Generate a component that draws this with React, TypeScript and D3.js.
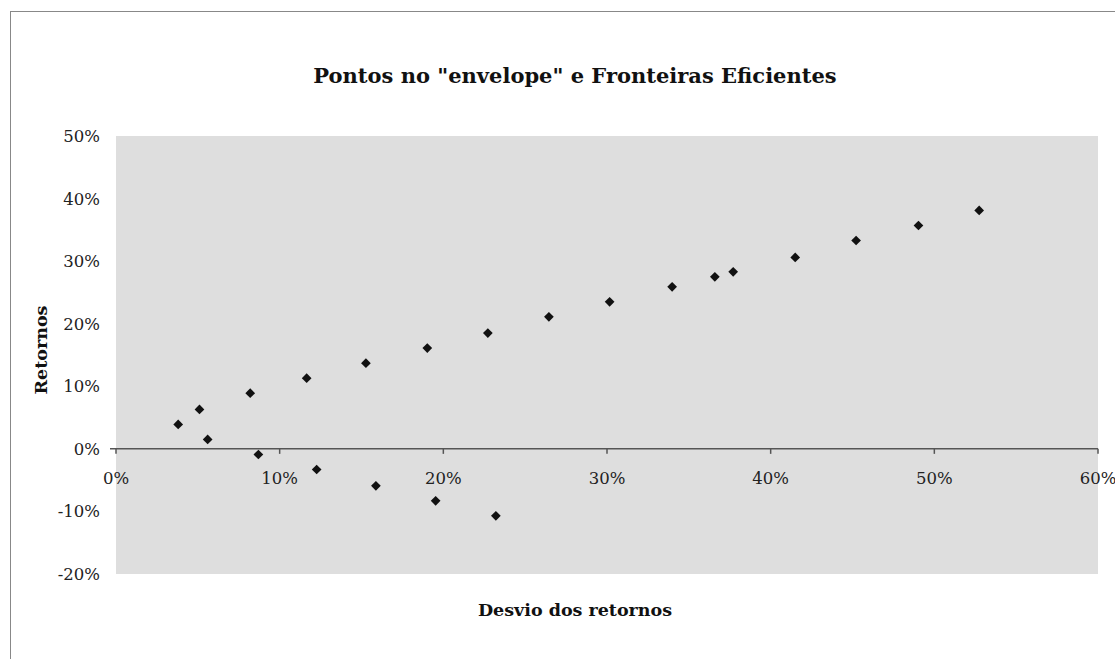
import React from "react";
import * as d3 from "d3";

const desvio = [3.8, 5.1, 5.6, 8.2, 8.7, 11.65, 12.26, 15.27, 15.88, 19.02, 19.53, 22.72, 23.21, 26.45, 30.16, 33.98, 36.59, 37.71, 41.5, 45.22, 49.03, 52.74];
const retorno = [3.9, 6.3, 1.5, 8.9, -0.9, 11.3, -3.3, 13.7, -5.9, 16.1, -8.3, 18.5, -10.7, 21.1, 23.5, 25.9, 27.5, 28.3, 30.6, 33.3, 35.7, 38.1];
const xTicks = [0, 10, 20, 30, 40, 50, 60];
const yTicks = [-20, -10, 0, 10, 20, 30, 40, 50];
const title = 'Pontos no "envelope" e Fronteiras Eficientes';
const xTitle = "Desvio dos retornos";
const yTitle = "Retornos";

export default function App() {
  const W = 1115, H = 659;
  const left = 116, right = 1098, top = 136, bottom = 574;
  const x = d3.scaleLinear().domain([0, 60]).range([left, right]);
  const y = d3.scaleLinear().domain([-20, 50]).range([bottom, top]);
  const diamond = d3.symbol().type(d3.symbolDiamond2).size(60)();
  const font = "'DejaVu Serif', serif";
  return (
    <svg width={W} height={H} style={{ position: "absolute", left: 0, top: 0 }} fontFamily={font}>
      <rect x={10.5} y={11.5} width={1200} height={700} fill="white" stroke="#888" strokeWidth={1} />
      <rect x={left} y={top} width={right - left} height={bottom - top} fill="#dedede" />
      <text x={575} y={83} textAnchor="middle" fontSize={21} fontWeight="bold" fill="#111">{title}</text>
      <line x1={x(0) - 6} x2={x(60)} y1={y(0)} y2={y(0)} stroke="#555" strokeWidth={1.5} />
      {xTicks.map((t) => (
        <g key={"xt" + t}>
          <line x1={x(t)} x2={x(t)} y1={y(0)} y2={y(0) + 5} stroke="#555" strokeWidth={1.5} />
          <text x={x(t)} y={y(0) + 35} textAnchor="middle" fontSize={16.5} fill="#222">{t}%</text>
        </g>
      ))}
      {yTicks.map((t) => (
        <text key={"yt" + t} x={left - 16} y={y(t) + 6} textAnchor="end" fontSize={16.5} fill="#222">{t}%</text>
      ))}
      {desvio.map((d, i) => (
        <path key={"p" + i} d={diamond} transform={`translate(${x(d)},${y(retorno[i])})`} fill="#111" />
      ))}
      <text x={575} y={616} textAnchor="middle" fontSize={17.5} fontWeight="bold" fill="#111">{xTitle}</text>
      <text transform={`translate(47,${(top + bottom) / 2 - 5}) rotate(-90)`} textAnchor="middle" fontSize={17.5} fontWeight="bold" fill="#111">{yTitle}</text>
    </svg>
  );
}
